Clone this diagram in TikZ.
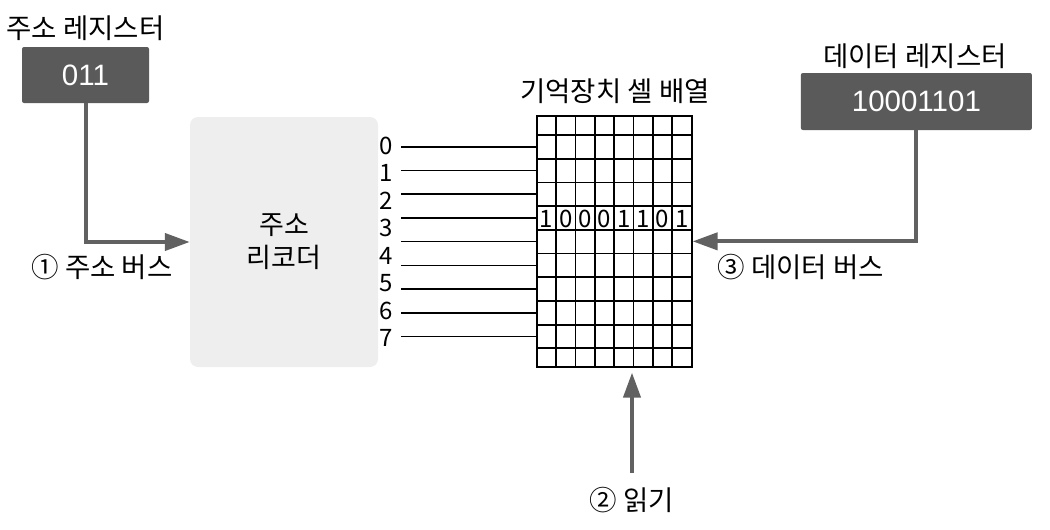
\documentclass[tikz,border=0pt]{standalone}
\usepackage{fontspec}
\setmainfont{Noto Sans CJK KR}
\newfontfamily\regfont{Liberation Sans}
\usetikzlibrary{arrows.meta}
\definecolor{regfill}{HTML}{5A5A5A}
\definecolor{busgray}{HTML}{616161}
\definecolor{decfill}{HTML}{EEEEEE}
\tikzset{
 reg/.style={fill=regfill, rounded corners=2pt, inner sep=0pt, text=white, font=\regfont\fontsize{29.5}{33}\selectfont},
 lbl/.style={inner sep=0pt, font=\fontsize{27.5}{31}\selectfont},
 bus/.style={draw=busgray, line width=4pt, -{Triangle[length=25pt,width=17pt]}},
 num/.style={inner sep=0pt, font=\fontsize{24}{28}\selectfont},
 wire/.style={line width=1.6pt, draw=black},
 cellline/.style={line width=1.8pt, draw=black},
}
\begin{document}
\begin{tikzpicture}[x=1pt,y=-1pt]
\useasboundingbox (0,0) rectangle (1050,530);
% registers
\node[reg, minimum width=127pt, minimum height=56pt] (areg) at (85.5,75) {011};
\node[lbl] (aregl) at (85.5,28.5) {주소 레지스터};
\node[reg, minimum width=231pt, minimum height=57pt] (dreg) at (916.4,101.5) {10001101};
\node[lbl] (dregl) at (915,56) {데이터 레지스터};
% decoder
\node[fill=decfill, rounded corners=8pt, minimum width=188pt, minimum height=250pt, align=center,
      font=\fontsize{27}{33}\selectfont] (dec) at (284,242) {주소\\리코더};
% memory grid
\node[cellline, draw, minimum width=155pt, minimum height=250.7pt, inner sep=0pt] (grid) at (614.2,241.35) {};
\node[lbl] (title) at (615,91) {기억장치 셀 배열};
\foreach \i in {1,...,7} \draw[cellline] ({536.7+\i*19.375},116) -- ({536.7+\i*19.375},366.7);
\foreach \y in {135,158.7,182.4,206.1,229.8,253.5,277.2,300.9,324.6,348.3} \draw[cellline] (536.7,\y) -- (691.7,\y);
\foreach \d [count=\i from 0] in {1,0,0,0,1,1,0,1}
  \node[num] (b\i) at ({536.7+19.375*(\i+0.5)},218.5) {\d};
% word lines and labels
\foreach \i in {0,...,8} {
  \coordinate (w\i) at (401,{146.85+23.7*\i});
  \draw[wire] (w\i) -- (w\i -| grid.west);
}
\foreach \i in {0,...,7} \node[num] (n\i) at (386,{145.5+27.5*\i}) {\i};
% buses
\draw[bus] (areg.south) |- (dec.west);
\node[lbl] (abus) at (102,267) {① 주소 버스};
\draw[bus] (dreg.south) |- (grid.east);
\node[lbl] (dbus) at (800.5,267) {③ 데이터 버스};
\coordinate (rd) at (632,473);
\draw[bus, shorten >=5pt] (rd) -- (rd |- grid.south);
\node[lbl] (rdl) at (632,500) {② 읽기};
\end{tikzpicture}
\end{document}
